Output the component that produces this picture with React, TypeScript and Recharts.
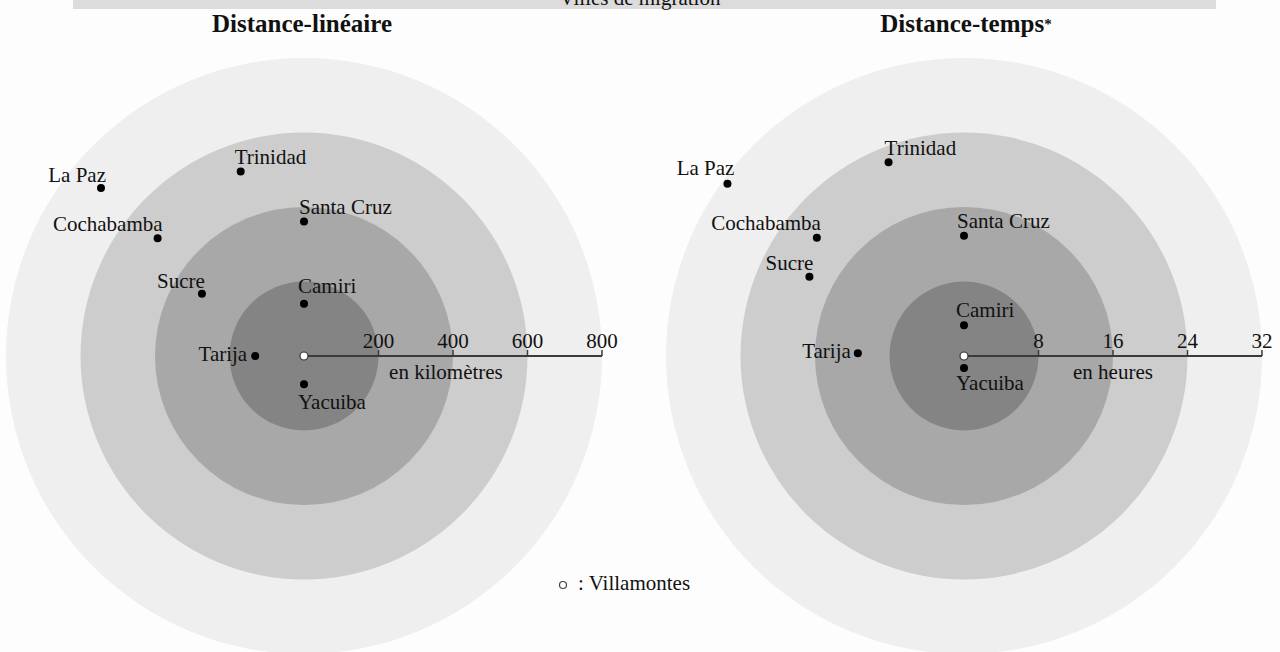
import React from 'react';
import { ScatterChart, Scatter, XAxis, YAxis, ReferenceArea, ReferenceLine, ReferenceDot } from 'recharts';

// Cities, with their position relative to Villamontes (x = east/west, y = north/south)
const cities = ['La Paz', 'Trinidad', 'Cochabamba', 'Santa Cruz', 'Sucre', 'Camiri', 'Tarija', 'Yacuiba'];
const kmX = [-545, -170, -393, 0, -274, 0, -131, 0];
const kmY = [451, 495, 316, 361, 167, 140, 0, -76];
const hoursX = [-25.4, -8.1, -15.8, 0, -16.6, 0, -11.4, 0];
const hoursY = [18.5, 20.8, 12.7, 12.9, 8.5, 3.3, 0.3, -1.3];

const kmTicks = [200, 400, 600, 800];
const hourTicks = [8, 16, 24, 32];

const ringFills = ['#efefef', '#cdcdcd', '#a8a8a8', '#848484'];
const FONT = '"Liberation Serif", "Times New Roman", serif';

type Anchor = 'start' | 'end';
// label offsets from the dot, in px
const kmLabels: Record<string, [number, number, Anchor]> = {
  'La Paz': [5, -6, 'end'],
  Trinidad: [-6, -8, 'start'],
  Cochabamba: [5, -7, 'end'],
  'Santa Cruz': [-5, -8, 'start'],
  Sucre: [3, -6, 'end'],
  Camiri: [-6, -11, 'start'],
  Tarija: [-8, 5, 'end'],
  Yacuiba: [-6, 25, 'start'],
};
const hourLabels: Record<string, [number, number, Anchor]> = {
  'La Paz': [7, -9, 'end'],
  Trinidad: [-4, -7, 'start'],
  Cochabamba: [4, -8, 'end'],
  'Santa Cruz': [-7, -8, 'start'],
  Sucre: [4, -7, 'end'],
  Camiri: [-8, -8, 'start'],
  Tarija: [-7, 5, 'end'],
  Yacuiba: [-8, 22, 'start'],
};

const toPoints = (xs: number[], ys: number[]) =>
  cities.map((name, i) => ({ name, x: xs[i], y: ys[i] }));

interface PanelProps {
  points: { name: string; x: number; y: number }[];
  ticks: number[];
  unit: string;
  unitAt: number;
  labels: Record<string, [number, number, Anchor]>;
  margin: { top: number; right: number; bottom: number; left: number };
}

const Panel = ({ points, ticks, unit, unitAt, labels, margin }: PanelProps) => {
  const max = ticks[ticks.length - 1];
  const tickData = ticks.map((t) => ({ x: t, y: 0, label: String(t) }));

  const CityDot = (p: any) => {
    const name = p.payload?.name ?? p.name;
    const [dx, dy, anchor] = labels[name] || [0, -8, 'start'];
    return (
      <g>
        <circle cx={p.cx} cy={p.cy} r={4} fill="#000" />
        <text x={p.cx + dx} y={p.cy + dy} textAnchor={anchor} fontFamily={FONT} fontSize={21} fill="#111">
          {name}
        </text>
      </g>
    );
  };

  const TickMark = (p: any) => (
    <g>
      <line x1={p.cx} y1={p.cy} x2={p.cx} y2={p.cy - 6} stroke="#3a3a3a" strokeWidth={1.5} />
      <text x={p.cx} y={p.cy - 8} textAnchor="middle" fontFamily={FONT} fontSize={21} fill="#111">
        {p.payload?.label ?? p.label}
      </text>
    </g>
  );

  return (
    <ScatterChart width={640} height={620} margin={margin} style={{ overflow: 'visible' }}>
      <XAxis type="number" dataKey="x" domain={[-max, max]} hide />
      <YAxis type="number" dataKey="y" domain={[-max, max]} hide />
      {[...ticks].reverse().map((r, i) => (
        <ReferenceArea
          key={r}
          x1={-r}
          x2={r}
          y1={-r}
          y2={r}
          ifOverflow="visible"
          shape={(a: any) => (
            <circle cx={a.x + a.width / 2} cy={a.y + a.height / 2} r={a.width / 2} fill={ringFills[i]} />
          )}
        />
      ))}
      <ReferenceLine
        segment={[{ x: 0, y: 0 }, { x: max, y: 0 }]}
        stroke="#3a3a3a"
        strokeWidth={2}
        ifOverflow="visible"
      />
      <Scatter data={tickData} shape={TickMark} isAnimationActive={false} />
      <ReferenceDot
        x={unitAt}
        y={0}
        ifOverflow="visible"
        shape={(d: any) => (
          <text x={d.cx} y={d.cy + 23} textAnchor="middle" fontFamily={FONT} fontSize={21} fill="#111">
            {unit}
          </text>
        )}
      />
      <Scatter data={points} shape={CityDot} isAnimationActive={false} />
      <Scatter
        data={[{ x: 0, y: 0 }]}
        isAnimationActive={false}
        shape={(c: any) => <circle cx={c.cx} cy={c.cy} r={4} fill="#fff" stroke="#333" strokeWidth={1.2} />}
      />
    </ScatterChart>
  );
};

const App: React.FC = () => (
  <div style={{ position: 'absolute', left: 0, top: 0, width: 1280, height: 660, background: '#fdfdfd', overflow: 'hidden', fontFamily: FONT }}>
    <svg width={1280} height={40} style={{ position: 'absolute', left: 0, top: 0 }}>
      <rect x={73} y={0} width={1143} height={9} fill="#dcdcdc" />
      <text x={640} y={5} textAnchor="middle" fontFamily={FONT} fontSize={21} fill="#111">
        Villes de migration
      </text>
      <text x={302} y={32} textAnchor="middle" fontFamily={FONT} fontSize={25} fontWeight="bold" fill="#111">
        Distance-linéaire
      </text>
      <text x={966} y={32} textAnchor="middle" fontFamily={FONT} fontSize={25} fontWeight="bold" fill="#111">
        Distance-temps<tspan fontSize={15} dy={-3}>*</tspan>
      </text>
    </svg>
    <div style={{ position: 'absolute', left: 0, top: 40 }}>
      <Panel
        points={toPoints(kmX, kmY)}
        ticks={kmTicks}
        unit="en kilomètres"
        unitAt={381}
        labels={kmLabels}
        margin={{ top: 18, right: 38, bottom: 6, left: 6 }}
      />
    </div>
    <div style={{ position: 'absolute', left: 640, top: 40 }}>
      <Panel
        points={toPoints(hoursX, hoursY)}
        ticks={hourTicks}
        unit="en heures"
        unitAt={16}
        labels={hourLabels}
        margin={{ top: 18, right: 18, bottom: 6, left: 26 }}
      />
    </div>
    <svg width={200} height={30} style={{ position: 'absolute', left: 550, top: 570 }}>
      <circle cx={13} cy={15} r={3.5} fill="#fff" stroke="#444" strokeWidth={1.2} />
      <text x={28} y={20} fontFamily={FONT} fontSize={21} fill="#111">
        : Villamontes
      </text>
    </svg>
  </div>
);

export default App;
